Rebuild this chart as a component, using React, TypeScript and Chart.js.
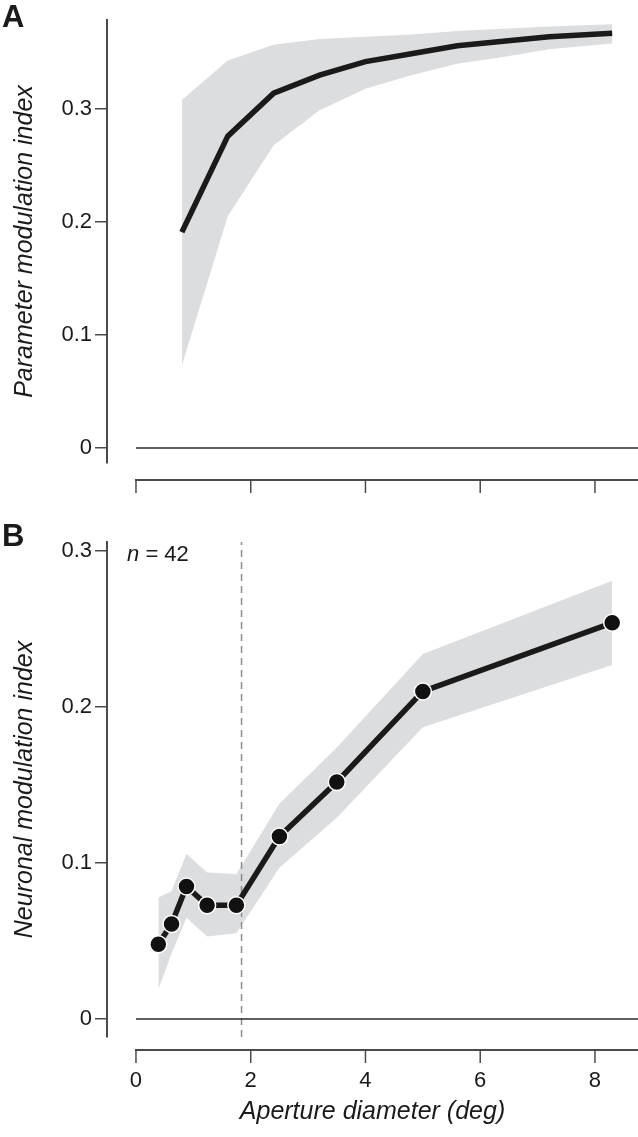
import React, { useEffect, useRef } from 'react';
import { Chart, registerables } from 'chart.js';

Chart.register(...registerables);

// ---------- Panel A: parameter modulation index ----------
const A_X = [0.8, 1.6, 2.4, 3.2, 4.0, 4.8, 5.6, 6.4, 7.2, 8.3];
const A_MEAN = [0.191, 0.276, 0.314, 0.330, 0.342, 0.349, 0.356, 0.360, 0.364, 0.367];
const A_UPPER = [0.308, 0.343, 0.357, 0.362, 0.364, 0.366, 0.369, 0.371, 0.373, 0.375];
const A_LOWER = [0.073, 0.205, 0.268, 0.299, 0.318, 0.330, 0.340, 0.346, 0.353, 0.358];

// ---------- Panel B: neuronal modulation index ----------
const B_X = [0.39, 0.62, 0.88, 1.24, 1.75, 2.5, 3.5, 5.0, 8.3];
const B_MEAN = [0.048, 0.061, 0.085, 0.073, 0.073, 0.117, 0.152, 0.210, 0.254];
const B_UPPER = [0.078, 0.082, 0.106, 0.094, 0.093, 0.138, 0.174, 0.234, 0.281];
const B_LOWER = [0.019, 0.042, 0.065, 0.053, 0.055, 0.097, 0.129, 0.187, 0.227];

const X_TICKS = [0, 2, 4, 6, 8];
const Y_TICKS = [0, 0.1, 0.2, 0.3];
const CUTOFF_X = 1.84;
const N_LABEL = 'n';
const N_VALUE = '= 42';
const X_TITLE = 'Aperture diameter (deg)';
const A_Y_TITLE = 'Parameter modulation index';
const B_Y_TITLE = 'Neuronal modulation index';

const X_MIN = -0.505;
const X_MAX = 8.75;
const FONT = "'Liberation Sans', Arial, Helvetica, sans-serif";
const INK = '#1a1a1a';
const AXIS = '#4a4a4a';
const BAND = '#dcdddf';

const detachedXAxis = {
  id: 'detachedXAxis',
  afterDraw(chart: any, _args: any, opts: any) {
    const { ctx, chartArea } = chart;
    const x = chart.scales.x;
    const y0 = chartArea.bottom + opts.gap;
    ctx.save();
    ctx.strokeStyle = AXIS;
    ctx.lineWidth = 2;
    ctx.beginPath();
    ctx.moveTo(x.getPixelForValue(X_TICKS[0]) - 1, y0);
    ctx.lineTo(x.getPixelForValue(X_MAX), y0);
    ctx.stroke();
    ctx.lineWidth = 1.5;
    for (const v of X_TICKS) {
      const px = x.getPixelForValue(v);
      ctx.beginPath();
      ctx.moveTo(px, y0);
      ctx.lineTo(px, y0 + opts.tickLen);
      ctx.stroke();
    }
    ctx.restore();
  },
};

function buildConfig(p: {
  xs: number[]; mean: number[]; upper: number[]; lower: number[];
  markers: boolean; yMin: number; yMax: number; showX: boolean;
  gap: number; xHeight: number; padTop: number; yTitle: string; cutoff?: number;
}): any {
  const pts = (arr: number[]) => p.xs.map((x, i) => ({ x, y: arr[i] }));
  const datasets: any[] = [
    {
      data: pts(p.mean),
      borderColor: INK,
      borderWidth: 5.5,
      pointRadius: p.markers ? 8.5 : 0,
      pointBackgroundColor: '#111',
      pointBorderColor: '#ffffff',
      pointBorderWidth: 1.5,
      borderJoinStyle: 'miter',
      fill: false,
      order: 0,
    },
    {
      data: [{ x: 0, y: 0 }, { x: X_MAX, y: 0 }],
      borderColor: '#2a2a2a',
      borderWidth: 1.5,
      pointRadius: 0,
      fill: false,
      order: 1,
    },
  ];
  if (p.cutoff !== undefined) {
    datasets.push({
      data: [{ x: p.cutoff, y: p.yMin }, { x: p.cutoff, y: p.yMax }],
      borderColor: '#8c8c8c',
      borderWidth: 1.5,
      borderDash: [7, 5],
      pointRadius: 0,
      fill: false,
      order: 2,
    });
  }
  datasets.push(
    {
      data: pts(p.upper),
      borderColor: 'rgba(0,0,0,0)',
      borderWidth: 0,
      pointRadius: 0,
      backgroundColor: BAND,
      fill: '+1',
      order: 3,
    },
    {
      data: pts(p.lower),
      borderColor: 'rgba(0,0,0,0)',
      borderWidth: 0,
      pointRadius: 0,
      fill: false,
      order: 4,
    }
  );

  return {
    type: 'line',
    data: { datasets },
    plugins: [detachedXAxis],
    options: {
      animation: false,
      responsive: false,
      maintainAspectRatio: false,
      layout: { autoPadding: false, padding: { top: p.padTop, left: 0, right: 0, bottom: 0 } },
      plugins: {
        legend: { display: false },
        tooltip: { enabled: false },
        detachedXAxis: { gap: p.gap, tickLen: 13 },
      },
      elements: { line: { tension: 0 } },
      scales: {
        x: {
          type: 'linear',
          min: X_MIN,
          max: X_MAX,
          afterBuildTicks: (s: any) => { s.ticks = X_TICKS.map((v) => ({ value: v })); },
          afterFit: (s: any) => { s.height = p.xHeight; s.paddingLeft = 0; s.paddingRight = 0; },
          border: { display: false },
          grid: { display: true, drawOnChartArea: false, drawTicks: true, tickLength: 31, color: 'rgba(0,0,0,0)' },
          ticks: {
            display: p.showX,
            padding: 0,
            maxRotation: 0,
            autoSkip: false,
            color: INK,
            font: { family: FONT, size: 22 },
            callback: (v: any) => String(v),
          },
          title: {
            display: p.showX,
            text: X_TITLE,
            color: INK,
            font: { family: FONT, size: 25, style: 'italic' },
            padding: { top: 0, bottom: 10 },
          },
        },
        y: {
          type: 'linear',
          min: p.yMin,
          max: p.yMax,
          afterBuildTicks: (s: any) => { s.ticks = Y_TICKS.map((v) => ({ value: v })); },
          afterFit: (s: any) => { s.width = 107; s.paddingTop = 0; s.paddingBottom = 0; },
          border: { display: true, color: AXIS, width: 2 },
          grid: { drawOnChartArea: false, drawTicks: true, tickLength: 12, color: AXIS, lineWidth: 1.5 },
          ticks: {
            padding: 3,
            color: INK,
            font: { family: FONT, size: 22 },
            callback: (v: any) => (v === 0 ? '0' : Number(v).toFixed(1)),
          },
          title: {
            display: true,
            text: p.yTitle,
            color: INK,
            font: { family: FONT, size: 25, style: 'italic' },
            padding: { top: 10, bottom: 0 },
          },
        },
      },
    },
  };
}

export default function App() {
  const refA = useRef<HTMLCanvasElement | null>(null);
  const refB = useRef<HTMLCanvasElement | null>(null);

  useEffect(() => {
    Chart.defaults.font.family = FONT;
    const a = new Chart(refA.current as HTMLCanvasElement, buildConfig({
      xs: A_X, mean: A_MEAN, upper: A_UPPER, lower: A_LOWER,
      markers: false, yMin: -0.0133, yMax: 0.3788, showX: false,
      gap: 17, xHeight: 37, padTop: 20, yTitle: A_Y_TITLE,
    }));
    const b = new Chart(refB.current as HTMLCanvasElement, buildConfig({
      xs: B_X, mean: B_MEAN, upper: B_UPPER, lower: B_LOWER,
      markers: true, yMin: -0.0115, yMax: 0.3058, showX: true,
      gap: 13, xHeight: 100, padTop: 42, yTitle: B_Y_TITLE, cutoff: CUTOFF_X,
    }));
    return () => { a.destroy(); b.destroy(); };
  }, []);

  const letter: React.CSSProperties = {
    position: 'absolute', left: 2, fontFamily: FONT, fontWeight: 700,
    fontSize: 31, lineHeight: 1, color: INK, margin: 0,
  };

  return (
    <div style={{ position: 'absolute', left: 0, top: 0, width: 638, height: 1137, background: '#fff', overflow: 'hidden' }}>
      <canvas ref={refA} width={638} height={500} style={{ position: 'absolute', left: 0, top: 0, width: 638, height: 500 }} />
      <canvas ref={refB} width={638} height={637} style={{ position: 'absolute', left: 0, top: 500, width: 638, height: 637 }} />
      <div style={{ ...letter, top: 1 }}>A</div>
      <div style={{ ...letter, top: 520 }}>B</div>
      <div style={{ position: 'absolute', left: 127, top: 543, fontFamily: FONT, fontSize: 22, lineHeight: 1, color: INK, whiteSpace: 'nowrap' }}>
        <i>{N_LABEL}</i> {N_VALUE}
      </div>
    </div>
  );
}
